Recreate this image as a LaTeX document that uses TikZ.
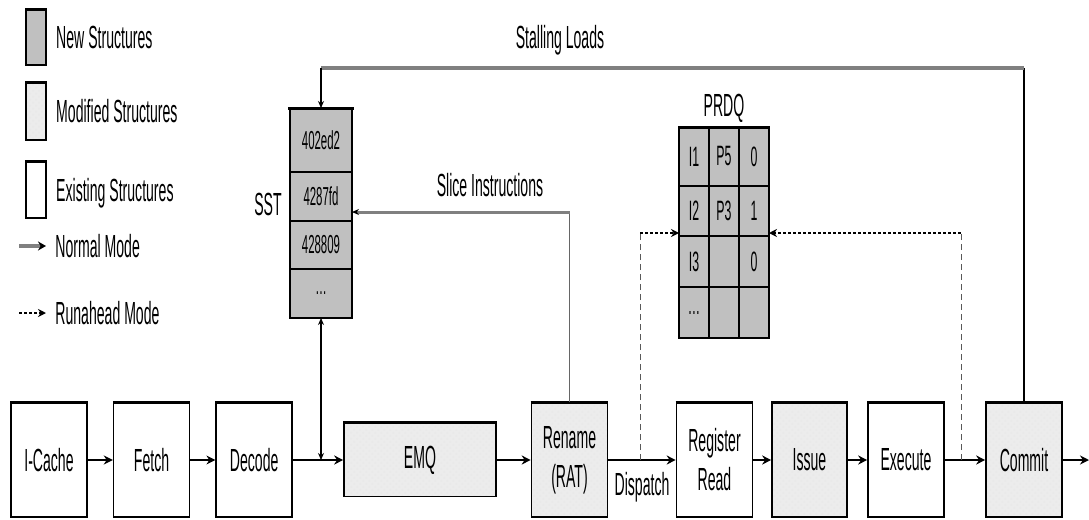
\documentclass[tikz,border=0pt]{standalone}
\usepackage{fontspec}
\setmainfont{Liberation Sans}[FakeStretch=0.44]
\usetikzlibrary{positioning,arrows.meta,patterns}
\definecolor{NewGray}{RGB}{192,192,192}
\definecolor{ModGray}{RGB}{236,236,236}
\definecolor{BusGray}{RGB}{128,128,128}
\tikzset{
  flow/.style={-{Stealth[length=4.5pt,width=4.5pt]},line width=1.2pt,draw=black},
  thinflow/.style={-{Stealth[length=3.5pt,width=3pt]},line width=0.6pt},
  thinline/.style={line width=0.7pt},
  busline/.style={line width=2pt,draw=BusGray},
  runflow/.style={-{Stealth[length=4pt,width=4pt]},line width=1.2pt,dash pattern=on 1.6pt off 0.9pt},
  runlink/.style={line width=0.5pt,draw=black!65,dash pattern=on 3pt off 2pt},
  stage/.style={draw,line width=0.8pt,minimum width=38pt,minimum height=57pt,inner sep=0pt,
    align=center,font=\fontsize{16}{19.5}\selectfont},
  newbox/.style={stage,fill=NewGray},
  modbox/.style={stage,preaction={fill=ModGray},pattern=crosshatch dots,pattern color=gray!18},
  cell/.style={draw,line width=0.9pt,fill=NewGray,inner sep=0pt,outer sep=0pt,
    font=\fontsize{13}{14}\selectfont},
  qcell/.style={cell,minimum width=15pt,font=\fontsize{14}{15}\selectfont},
  lbl/.style={font=\fontsize{16}{18}\selectfont,inner sep=0pt}
}
\begin{document}
\begin{tikzpicture}[x=0.5pt,y=-0.5pt]
  \useasboundingbox (0,0) rectangle (1089,520);
  % legend
  \node[newbox,minimum width=10pt,minimum height=27.5pt] (newkey) at (36,37.5) {};
  \node[lbl,right=4.5pt of newkey] {New Structures};
  \node[modbox,minimum width=10pt,minimum height=28.5pt] (modkey) at (36,111.5) {};
  \node[lbl,right=4.5pt of modkey] {Modified Structures};
  \node[stage,minimum width=10pt,minimum height=28pt] (oldkey) at (36,190) {};
  \node[lbl,right=4.5pt of oldkey,yshift=-1.5pt] {Existing Structures};
  \coordinate (normA) at (19,246);
  \coordinate (normB) at (46,246);
  \draw[flow,line width=2pt,draw=BusGray,-{Stealth[length=4pt,width=4.5pt,color=black]}] (normA) -- (normB);
  \node[lbl,right=4.5pt of normB] {Normal Mode};
  \coordinate (runA) at (19,313);
  \coordinate (runB) at (46,313);
  \draw[runflow] (runA) -- (runB);
  \node[lbl,right=4.5pt of runB] {Runahead Mode};
  % pipeline
  \node[stage] (icache) at (49,460) {I-Cache};
  \node[stage,right=12.5pt of icache] (fetch) {Fetch};
  \node[stage,right=12.5pt of fetch] (decode) {Decode};
  \node[modbox,minimum width=76pt,minimum height=36.5pt] (emq) at (420,460) {EMQ};
  \node[modbox] (rename) at (569.5,460) {Rename\\(RAT)};
  \node[stage] (regread) at (714.5,460) {Register\\Read};
  \node[modbox,minimum width=37.5pt] (issue) at (809.5,460) {Issue};
  \node[stage] (execute) at (906,460) {Execute};
  \node[modbox] (commit) at (1024,460) {Commit};
  \coordinate (out) at (1089,460);
  \draw[flow] (icache) -- (fetch);
  \draw[flow] (fetch) -- (decode);
  \draw[flow] (decode) -- (emq);
  \draw[flow] (emq) -- (rename);
  \draw[flow] (rename) -- node[lbl,yshift=-13.5pt] {Dispatch} (regread);
  \draw[flow] (regread) -- (issue);
  \draw[flow] (issue) -- (execute);
  \draw[flow] (execute) -- (commit);
  \draw[flow] (commit) -- (out);
  % SST
  \node[cell,minimum width=31pt,minimum height=32pt] (sst1) at (321,140) {402ed2};
  \node[cell,minimum width=31pt,minimum height=24.5pt,below=0pt of sst1] (sst2) {4287fd};
  \node[cell,minimum width=31pt,minimum height=24pt,below=0pt of sst2] (sst3) {428809};
  \node[cell,minimum width=31pt,minimum height=24.5pt,below=0pt of sst3] (sst4) {\ldots};
  \node[lbl] at (268,204) {SST};
  % PRDQ
  \foreach \r/\y/\h/\a/\b/\c in {1/156.5/29.5/I1/P5/0,2/211/25/I2/P3/1,3/261.5/25.5/I3//0,4/312.5/25.5/\ldots//}{
    \node[qcell,minimum height=\h pt] (prdq-\r-1) at (694,\y) {\a};
    \node[qcell,minimum height=\h pt,right=0pt of prdq-\r-1] (prdq-\r-2) {\b};
    \node[qcell,minimum height=\h pt,right=0pt of prdq-\r-2] (prdq-\r-3) {\c};
  }
  \node[lbl,above=2pt of prdq-1-2] {PRDQ};
  % heavier top edges
  \foreach \n in {newkey,modkey,oldkey,icache,fetch,decode,emq,rename,regread,issue,execute,commit}
    \draw[line width=1.5pt] (\n.north west) -- (\n.north east);
  \draw[line width=1.5pt] ([xshift=-1pt]sst1.north west) -- ([xshift=1pt]sst1.north east);
  \draw[line width=1.5pt] (prdq-1-1.north west) -- (prdq-1-3.north east);
  % stalling loads
  \coordinate (stallY) at (0,68);
  \draw[thinline] (commit.north) -- (commit.north |- stallY) coordinate (stallR);
  \draw[busline] (stallR) -- (sst1.north |- stallY) coordinate (stallL);
  \draw[thinflow] (stallL) -- (sst1.north);
  \node[lbl] at (560,40) {Stalling Loads};
  % slice instructions
  \coordinate (sliceY) at (0,212);
  \draw[thinline,draw=black!60] (rename.north) -- (rename.north |- sliceY) coordinate (sliceR);
  \draw[busline,line width=1.5pt,-{Stealth[length=3.5pt,width=3pt,color=black]}] (sliceR) -- (sliceR -| sst2.east);
  \node[lbl] at (490,185) {Slice Instructions};
  \draw[thinflow,{Stealth[length=3.5pt,width=3pt]}-{Stealth[length=3.5pt,width=3pt]}] (sst4.south) -- (sst4.south |- decode.east);
  % runahead links
  \coordinate (runY) at (0,233);
  \coordinate (dispJ) at (640,460);
  \coordinate (execJ) at (961,460);
  \draw[runlink] (dispJ) -- (dispJ |- runY) coordinate (dispT);
  \draw[runflow] (dispT) -- (dispT -| prdq-3-1.west);
  \draw[runlink] (execJ) -- (execJ |- runY) coordinate (execT);
  \draw[runflow] (execT) -- (execT -| prdq-3-3.east);
\end{tikzpicture}
\end{document}
